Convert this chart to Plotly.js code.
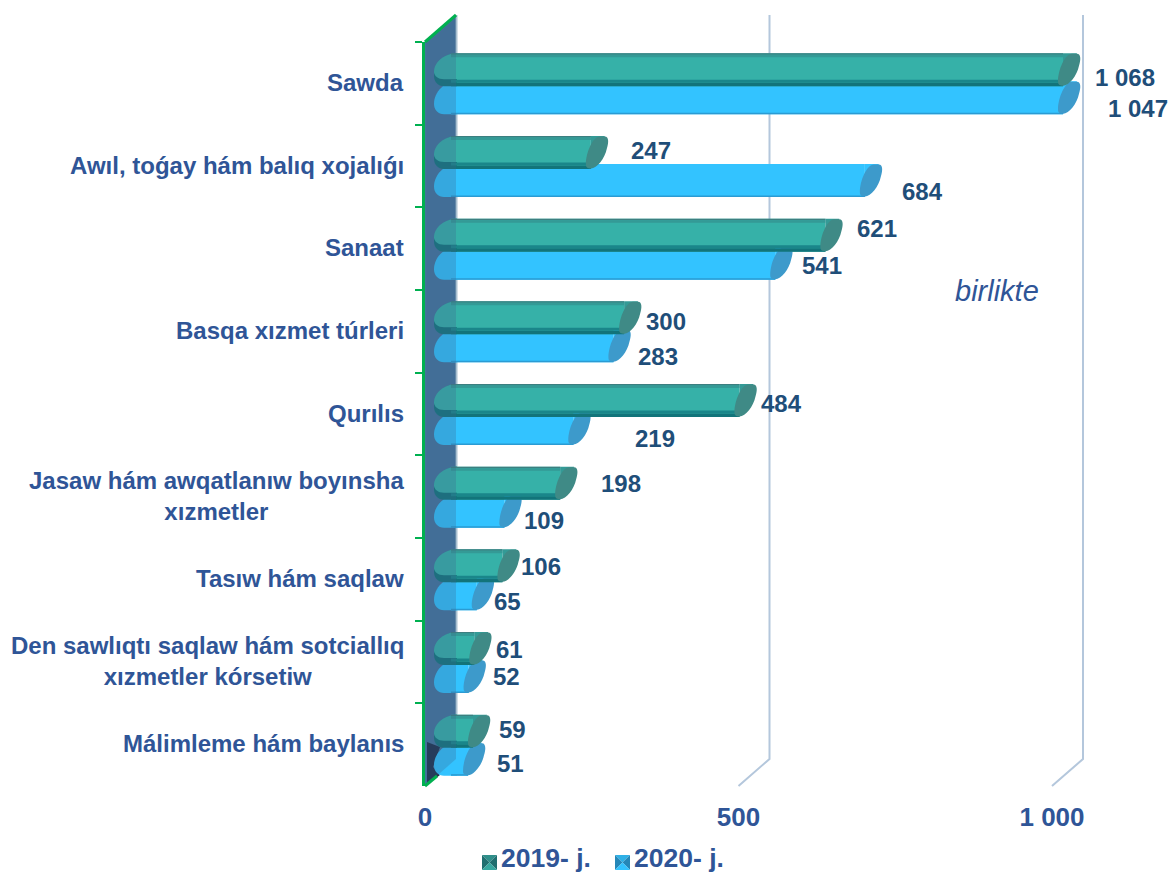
<!DOCTYPE html>
<html><head><meta charset="utf-8">
<script src="https://cdn.plot.ly/plotly-3.0.1.min.js"></script>
<style>html,body{margin:0;padding:0;background:#fff}#c{width:1170px;height:873px}</style>
</head><body><div id="c"></div>
<script>
const categories = ["Sawda","Awıl, toǵay hám balıq xojalıǵı","Sanaat","Basqa xızmet túrleri","Qurılıs","Jasaw hám awqatlanıw boyınsha<br>xızmetler","Tasıw hám saqlaw","Den sawlıqtı saqlaw hám sotciallıq<br>xızmetler kórsetiw","Málimleme hám baylanıs"];
const values2019 = [1068,247,621,300,484,198,106,61,59];
const values2020 = [1047,684,541,283,219,109,65,52,51];
const tickValues = [0,500,1000];
const tickLabels = ["0","500","1 000"];
const seriesNames = ["2019- j.","2020- j."];
const valueText2019 = ["1 068","247","621","300","484","198","106","61","59"];
const valueText2020 = ["1 047","684","541","283","219","109","65","52","51"];
// hand placed label offsets (px) from each bar's value position on the axis
const shift2019 = [[30,6],[71,16],[63,20],[53,10],[53,11],[72,13],[50,13],[46,13],[51,15]];
const shift2020 = [[57,-25],[69,-25],[58,-17],[56,-25],[93,-24],[51,-24],[42,-22],[49,-14],[54,-19]];

const W=1170,H=873, k=627/1000;
const TEAL='#36b1a8', TEAL_CAP='#3f8a86', TEAL_DARK='#12747a';
const BLUE='#33c3ff', BLUE_LOW='#2b9bd3', BLUE_CAP='#3d9acb';
const TXT='#2f5597', VAL='#1f4e79', GREEN='#00b050', GRID='#b4c7dc', WALL='#44729b';
const py=p=>1-p/H, px=p=>p/W;
const dom=(a,b)=>[px(a),px(b)];
const MAXV=1000;

const capPath='M -11 -12 C -11 0 -4 16 3 16 L 8 16 C 12 16 12 10 10 4 C 8 -6 0 -16 -6 -16 C -9 -16 -11 -15 -11 -12 Z';
const fillPath='M -6 -16.5 L -6 16.5 L 8 16.5 Z';
const leftPath='M 15 16.5 C 3 16.5 -8 6 -8 -6 C -8 -12 -4 -16.5 2 -16.5 L 15 -16.5 Z';
const leftInner='M 15 16.5 C 3 16.5 -8 8 -8 -2 C -8 -6 -4 -9.5 2 -9.5 L 15 -9.5 Z';
function shiftPath(p,dx,dy){
  return p.replace(/(-?\d+(?:\.\d+)?) (-?\d+(?:\.\d+)?)/g,(m,a,b)=>(+a+dx)+' '+(+b+dy));
}
const shapes=[];
const poly=(pts,fill,layer,lc,lw)=>shapes.push({type:'path',xref:'paper',yref:'paper',layer:layer||'above',
  path:'M '+pts.map(p=>px(p[0])+' '+py(p[1])).join(' L ')+' Z',fillcolor:fill,line:{width:lw||0,color:lc||fill}});
const seg=(pts,c,w,layer)=>shapes.push({type:'path',xref:'paper',yref:'paper',layer:layer||'above',
  path:'M '+pts.map(p=>px(p[0])+' '+py(p[1])).join(' L '),line:{width:w,color:c}});

poly([[425,42],[456,15],[456,759],[425,786]],WALL,'below');
poly([[427,742],[440,747],[433,767],[440,775],[427,785]],'#1e2d48','below');
seg([[456.5,15],[456.5,759]],'#a9c0d0',2,'below');
[500,1000].forEach(v=>shapes.push({type:'path',xref:'x3',yref:'paper',xsizemode:'pixel',xanchor:v,layer:'below',
  path:`M 0 ${py(786)} L 31 ${py(759)} L 31 ${py(15)}`,line:{color:GRID,width:2}}));

function band(i,v,cyPx,a,b,color){
  shapes.push({type:'rect',xref:'x2',yref:'y',x0:0,x1:v,ysizemode:'pixel',yanchor:i,y0:cyPx+a,y1:cyPx+b,
    fillcolor:color,line:{width:0},layer:'above'});
}
function pathAt(i,v,p,cyPx,color){
  shapes.push({type:'path',xref:'x3',yref:'y',xsizemode:'pixel',ysizemode:'pixel',xanchor:Math.min(v,MAXV),yanchor:i,
    path:shiftPath(p,17,cyPx),fillcolor:color,line:{width:0},layer:'above'});
}
categories.forEach((c,i)=>{
  pathAt(i,0,leftPath,-14.5,BLUE);
  pathAt(i,values2020[i],fillPath,-14.5,BLUE);
  band(i,values2020[i],-14.5,-16.5,-15,BLUE_LOW);
  pathAt(i,values2020[i],capPath,-14.5,BLUE_CAP);
});
categories.forEach((c,i)=>{
  pathAt(i,0,leftPath,13.5,TEAL_DARK);
  pathAt(i,0,leftInner,13.5,TEAL);
  pathAt(i,values2019[i],fillPath,13.5,'#349a96');
  band(i,values2019[i],13.5,-16.5,-13,TEAL_DARK);
  band(i,values2019[i],13.5,-13,-10,'#1a868a');
  band(i,values2019[i],13.5,15,16.5,'#3c7f80');
  band(i,values2019[i],13.5,12.5,15,'#349a96');
  pathAt(i,values2019[i],capPath,13.5,TEAL_CAP);
});
poly([[426.5,41],[456,15],[456,759],[426.5,785]],'rgba(60,100,140,0.28)','above');
seg([[425,42],[456,15]],GREEN,3);
seg([[425,786],[437,776]],GREEN,3);

function swatch(x,y,s,top,left,right,bottom){
  const c=[x+s/2,y+s/2];
  poly([[x,y],[x+s,y],c],top);
  poly([[x,y],[x,y+s],c],left);
  poly([[x+s,y],[x+s,y+s],c],right);
  poly([[x,y+s],[x+s,y+s],c],bottom);
}
swatch(482,855,15,'#2f8f8a','#1f6f70','#1f6f70','#36a8a0');
swatch(615,855,15,'#2fb0e6','#2587b8','#2587b8','#33c3ff');

const annotations=[];
categories.forEach((c,i)=>annotations.push({xref:'paper',yref:'y',x:px(405.5),y:i,yshift:1,text:c,showarrow:false,xanchor:'right',yanchor:'middle',align:'center',
  font:{family:'Liberation Sans',size:24,color:TXT,weight:700}}));
const addVal=(t,v,i,s)=>annotations.push({xref:'x3',yref:'y',x:v,y:i,xshift:s[0],yshift:s[1],text:t,showarrow:false,xanchor:'center',yanchor:'middle',
  font:{family:'Liberation Sans',size:24,color:VAL,weight:700}});
categories.forEach((c,i)=>{addVal(valueText2019[i],values2019[i],i,shift2019[i]);addVal(valueText2020[i],values2020[i],i,shift2020[i]);});
annotations.push({xref:'paper',yref:'paper',x:px(997),y:py(291),text:'birlikte',showarrow:false,xanchor:'center',yanchor:'middle',
  font:{family:'Liberation Sans',size:29,color:TXT,style:'italic'}});
annotations.push({xref:'paper',yref:'paper',x:px(499),y:py(858),text:seriesNames[0],showarrow:false,xanchor:'left',yanchor:'middle',font:{family:'Liberation Sans',size:26.5,color:TXT,weight:700}});
annotations.push({xref:'paper',yref:'paper',x:px(632),y:py(858),text:seriesNames[1],showarrow:false,xanchor:'left',yanchor:'middle',font:{family:'Liberation Sans',size:26.5,color:TXT,weight:700}});

const barW=33/82.67;
const traces=[
 {type:'bar',orientation:'h',name:seriesNames[1],y:categories,x:values2020,xaxis:'x2',yaxis:'y',offset:-2/82.67,width:barW,marker:{color:BLUE,line:{width:0}},hoverinfo:'x+y',showlegend:false},
 {type:'bar',orientation:'h',name:seriesNames[0],y:categories,x:values2019,xaxis:'x2',yaxis:'y',offset:-30/82.67,width:barW,marker:{color:TEAL,line:{width:0}},hoverinfo:'x+y',showlegend:false},
 {type:'scatter',mode:'markers',x:values2019,y:categories,xaxis:'x3',yaxis:'y',marker:{opacity:0,size:1},hoverinfo:'skip',showlegend:false},
 {type:'scatter',mode:'markers',x:values2019,y:categories,xaxis:'x',yaxis:'y',marker:{opacity:0,size:1},hoverinfo:'skip',showlegend:false}
];
const layout={
 width:W,height:H,margin:{l:0,r:0,t:0,b:0,pad:0},paper_bgcolor:'#fff',plot_bgcolor:'rgba(0,0,0,0)',
 barmode:'overlay',showlegend:false,
 xaxis:{domain:dom(425,1052),range:[0,MAXV],autorange:false,anchor:'y',tickmode:'array',tickvals:tickValues,ticktext:tickLabels,showgrid:false,zeroline:false,showline:false,ticks:'',
   ticklabelstandoff:13,tickfont:{family:'Liberation Sans',size:26,color:TXT,weight:700},automargin:false},
 xaxis2:{domain:dom(451,436+627),range:[15/k,MAXV],autorange:false,anchor:'y',visible:false,fixedrange:true},
 xaxis3:{domain:dom(400,1170),range:[(400-425)/k,(1170-425)/k],autorange:false,anchor:'y',visible:false,fixedrange:true},
 yaxis:{domain:[py(786),py(42)],autorange:false,range:[8.5,-0.5],type:'category',categoryorder:'array',categoryarray:categories,tickson:'boundaries',anchor:'x',side:'left',
   showticklabels:false,ticks:'outside',ticklen:7,tickwidth:2,tickcolor:GREEN,showline:true,linecolor:GREEN,linewidth:3,showgrid:false,zeroline:false,automargin:false},
 shapes,annotations
};
Plotly.newPlot('c',traces,layout,{displayModeBar:false,staticPlot:true});
</script></body></html>
